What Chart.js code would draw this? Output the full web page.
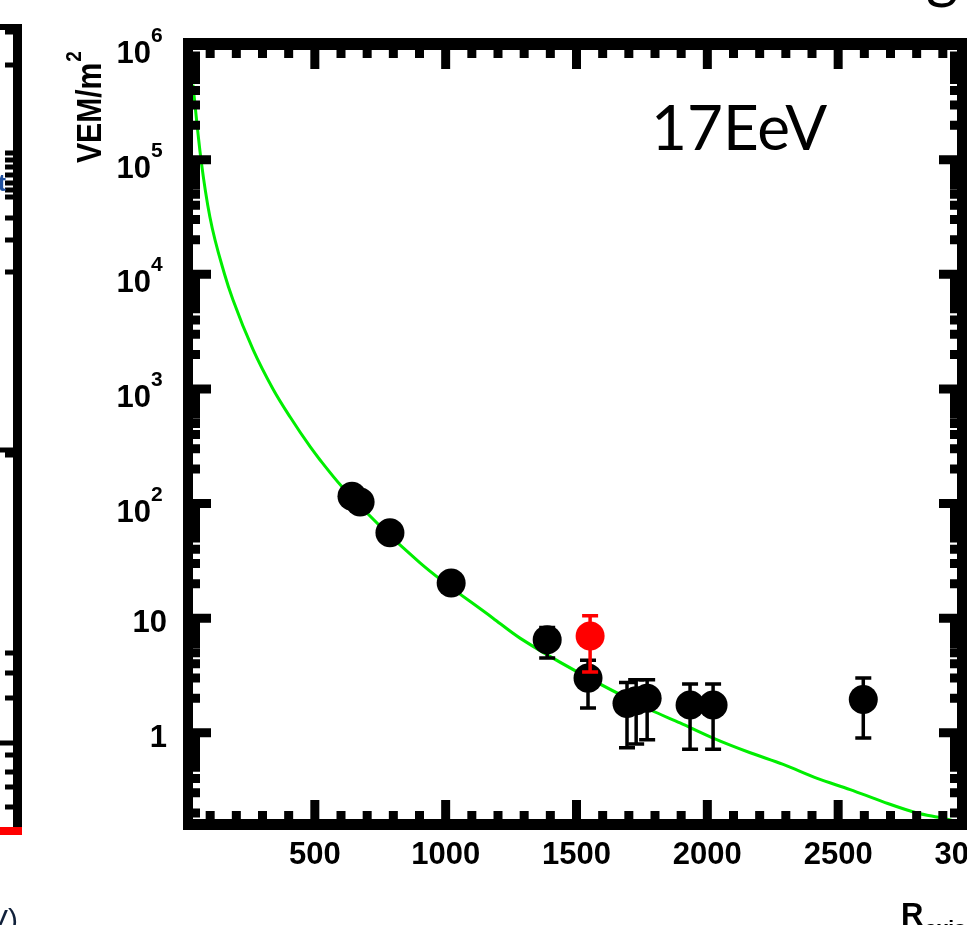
<!DOCTYPE html>
<html>
<head>
<meta charset="utf-8">
<script src="https://cdn.jsdelivr.net/npm/chart.js@4.4.0/dist/chart.umd.min.js"></script>
<style>
html, body { margin: 0; padding: 0; background: #fff; overflow: hidden; }
#wrap { position: absolute; left: 0; top: 0; width: 990px; height: 925px; }
</style>
</head>
<body>
<div id="wrap"><canvas id="ldfChart" width="990" height="925"></canvas></div>
<script>
// Estaciones: distancia al eje (m) y señal (VEM/m2)
const rEstaciones = [642, 673, 787, 1021, 1388, 1544, 1693, 1728, 1770, 1934, 2022, 2596];
const senal      = [116, 103, 55.5, 20.3, 6.5, 3.0, 1.8, 1.9, 2.0, 1.75, 1.75, 1.95];
const errSup     = [125, 111, 60, 22.5, 8.3, 4.3, 2.75, 2.9, 2.9, 2.67, 2.67, 3.0];
const errInf     = [107, 95, 51, 18.2, 4.5, 1.65, 0.74, 0.80, 0.87, 0.72, 0.72, 0.90];

// Estación marcada en rojo
const rRoja      = [1552];
const senalRoja  = [7.0];
const errSupRoja = [10.5];
const errInfRoja = [3.4];

// Curva LDF
const rLdf     = [34, 65, 99, 155, 187, 264, 340, 405, 482, 520, 604, 902, 1181, 1284, 1782, 1896, 2022, 2164, 2290, 2420, 2546, 2672, 2802, 2901, 3000];
const senalLdf = [4.5e5, 1e5, 3.16e4, 1e4, 6000, 2200, 1000, 571, 313, 240, 140, 30.4, 10, 6.7, 1.59, 1.22, 0.90, 0.67, 0.53, 0.40, 0.32, 0.25, 0.20, 0.18, 0.157];

// Ejes
const xTicksMayores = [500, 1000, 1500, 2000, 2500, 3000];
const xTickLabels   = ['500', '1000', '1500', '2000', '2500', '3000'];
const yTicksMayores = [1, 10, 100, 1e3, 1e4, 1e5, 1e6];
const yTickBase     = ['1', '10', '10', '10', '10', '10', '10'];
const yTickExp      = ['', '', '2', '3', '4', '5', '6'];
const energia = '17EeV';

const puntos = (xs, ys) => xs.map((x, i) => ({ x: x, y: ys[i] }));

// Barras de error, dibujadas justo antes de cada conjunto de puntos
const barrasError = {
    id: 'barrasError',
    beforeDatasetDraw(chart, args) {
        const ds = chart.data.datasets[args.index];
        if (!ds.errSup) return;
        const ctx = chart.ctx, xs = chart.scales.x, ys = chart.scales.y;
        ctx.save();
        ctx.strokeStyle = ds.backgroundColor;
        ctx.lineWidth = 3.5;
        ds.data.forEach((p, i) => {
            const px = xs.getPixelForValue(p.x);
            const top = ys.getPixelForValue(ds.errSup[i]);
            const bot = ys.getPixelForValue(ds.errInf[i]);
            ctx.beginPath();
            ctx.moveTo(px, top); ctx.lineTo(px, bot);
            ctx.moveTo(px - 8, top); ctx.lineTo(px + 8, top);
            ctx.moveTo(px - 8, bot); ctx.lineTo(px + 8, bot);
            ctx.stroke();
        });
        ctx.restore();
    }
};

// Marco, marcas y textos estilo ROOT
const marco = {
    id: 'marco',
    afterDraw(chart) {
        const ctx = chart.ctx, a = chart.chartArea;
        const xs = chart.scales.x, ys = chart.scales.y;
        const L = a.left - 1, T = a.top - 7, B = a.bottom + 5, R = a.right + 8;
        const Li = a.left + 9, Ti = a.top + 5, Bi = a.bottom - 6, Ri = a.right - 12;
        ctx.save();
        ctx.fillStyle = '#000';
        ctx.fillRect(L, T, R - L, Ti - T);
        ctx.fillRect(L, Bi, R - L, B - Bi);
        ctx.fillRect(L, T, Li - L, B - T);
        ctx.fillRect(Ri, T, R - Ri, B - T);

        ctx.strokeStyle = '#000';
        ctx.lineWidth = 9;
        ctx.beginPath();
        for (let v = 100; v < 3000; v += 100) {
            const px = xs.getPixelForValue(v);
            const len = (v % 500 === 0) ? 19 : 8;
            ctx.moveTo(px, Bi); ctx.lineTo(px, Bi - len);
            ctx.moveTo(px, Ti); ctx.lineTo(px, Ti + len);
        }
        for (let e = -1; e <= 5; e++) {
            for (let k = 1; k <= 9; k++) {
                const v = k * Math.pow(10, e);
                if (v < ys.min || v > ys.max) continue;
                const py = ys.getPixelForValue(v);
                if (py < Ti + 4 || py > Bi - 4) continue;
                const len = (k === 1) ? 18 : 7;
                ctx.moveTo(Li, py); ctx.lineTo(Li + len, py);
                ctx.moveTo(Ri, py); ctx.lineTo(Ri - len, py);
            }
        }
        ctx.stroke();

        // Etiquetas eje x
        ctx.font = 'bold 31px "Liberation Sans", Arial, sans-serif';
        ctx.textAlign = 'center';
        ctx.textBaseline = 'alphabetic';
        xTicksMayores.forEach((v, i) => {
            ctx.fillText(xTickLabels[i], xs.getPixelForValue(v), 864);
        });

        // Etiquetas eje y
        yTicksMayores.forEach((v, i) => {
            const py = ys.getPixelForValue(v);
            if (yTickExp[i]) {
                ctx.font = 'bold 21px "Liberation Sans", Arial, sans-serif';
                ctx.textAlign = 'left';
                ctx.fillText(yTickExp[i], 151, py - 3);
                ctx.font = 'bold 31px "Liberation Sans", Arial, sans-serif';
                ctx.textAlign = 'right';
                ctx.fillText(yTickBase[i], 151, py + 18);
            } else {
                ctx.font = 'bold 31px "Liberation Sans", Arial, sans-serif';
                ctx.textAlign = 'right';
                ctx.fillText(yTickBase[i], 167, py + 14);
            }
        });

        // Título eje y
        ctx.save();
        ctx.translate(101, 163);
        ctx.rotate(-Math.PI / 2);
        ctx.scale(0.86, 1);
        ctx.textAlign = 'left';
        ctx.font = 'bold 35px "Liberation Sans", Arial, sans-serif';
        ctx.fillText('VEM/m', 0, 0);
        const w = ctx.measureText('VEM/m').width;
        ctx.font = 'bold 22px "Liberation Sans", Arial, sans-serif';
        ctx.fillText('2', w + 1, -20);
        ctx.restore();

        // Título eje x (recortado)
        ctx.textAlign = 'left';
        ctx.font = 'bold 31px "Liberation Sans", Arial, sans-serif';
        ctx.fillText('R', 901, 925);
        ctx.font = 'bold 21px "Liberation Sans", Arial, sans-serif';
        ctx.fillText('axis', 925, 935);

        // Energía
        ctx.font = '62px Lato, "Open Sans", sans-serif';
        ctx.fillText(energia, 651, 150);

        // Restos del panel vecino y del título
        ctx.fillText('g', 926, -4);
        ctx.fillRect(0, 24, 22, 6);
        ctx.fillRect(13, 24, 9, 810);
        ctx.lineWidth = 5;
        ctx.beginPath();
        [32, 65, 153, 160, 167, 175, 183, 190, 197, 218, 240, 272, 455, 653, 673, 698, 755, 772, 787, 807].forEach(py => {
            ctx.moveTo(13, py); ctx.lineTo(5, py);
        });
        ctx.moveTo(13, 450); ctx.lineTo(0, 450);
        ctx.moveTo(13, 743); ctx.lineTo(0, 743);
        ctx.stroke();
        ctx.fillStyle = '#ff0000';
        ctx.fillRect(0, 827, 22, 8);
        ctx.fillStyle = '#1f4f9f';
        ctx.font = 'bold 24px "Liberation Sans", Arial, sans-serif';
        ctx.fillText('t', -2, 191);
        ctx.fillStyle = '#10203a';
        ctx.font = '30px "Liberation Sans", Arial, sans-serif';
        ctx.fillText('V)', -12, 930);
        ctx.restore();
    }
};

new Chart(document.getElementById('ldfChart'), {
    type: 'scatter',
    data: {
        datasets: [{
            label: 'roja',
            data: puntos(rRoja, senalRoja),
            errSup: errSupRoja,
            errInf: errInfRoja,
            backgroundColor: '#ff0000',
            borderWidth: 0,
            pointRadius: 14.5,
            pointHoverRadius: 14.5
        }, {
            label: 'estaciones',
            data: puntos(rEstaciones, senal),
            errSup: errSup,
            errInf: errInf,
            backgroundColor: '#000000',
            borderWidth: 0,
            pointRadius: 14.5,
            pointHoverRadius: 14.5
        }, {
            label: 'LDF',
            type: 'line',
            data: puntos(rLdf, senalLdf),
            borderColor: '#00ee00',
            borderWidth: 3,
            pointRadius: 0,
            fill: false,
            cubicInterpolationMode: 'monotone'
        }]
    },
    options: {
        responsive: false,
        animation: false,
        devicePixelRatio: 1,
        layout: { padding: { left: 184, right: 21, top: 45, bottom: 100 } },
        plugins: { legend: { display: false }, tooltip: { enabled: false } },
        scales: {
            x: { type: 'linear', min: 0, max: 3000, display: false },
            y: { type: 'logarithmic', min: 0.157, max: 1e6, display: false }
        }
    },
    plugins: [barrasError, marco]
});
</script>
</body>
</html>
